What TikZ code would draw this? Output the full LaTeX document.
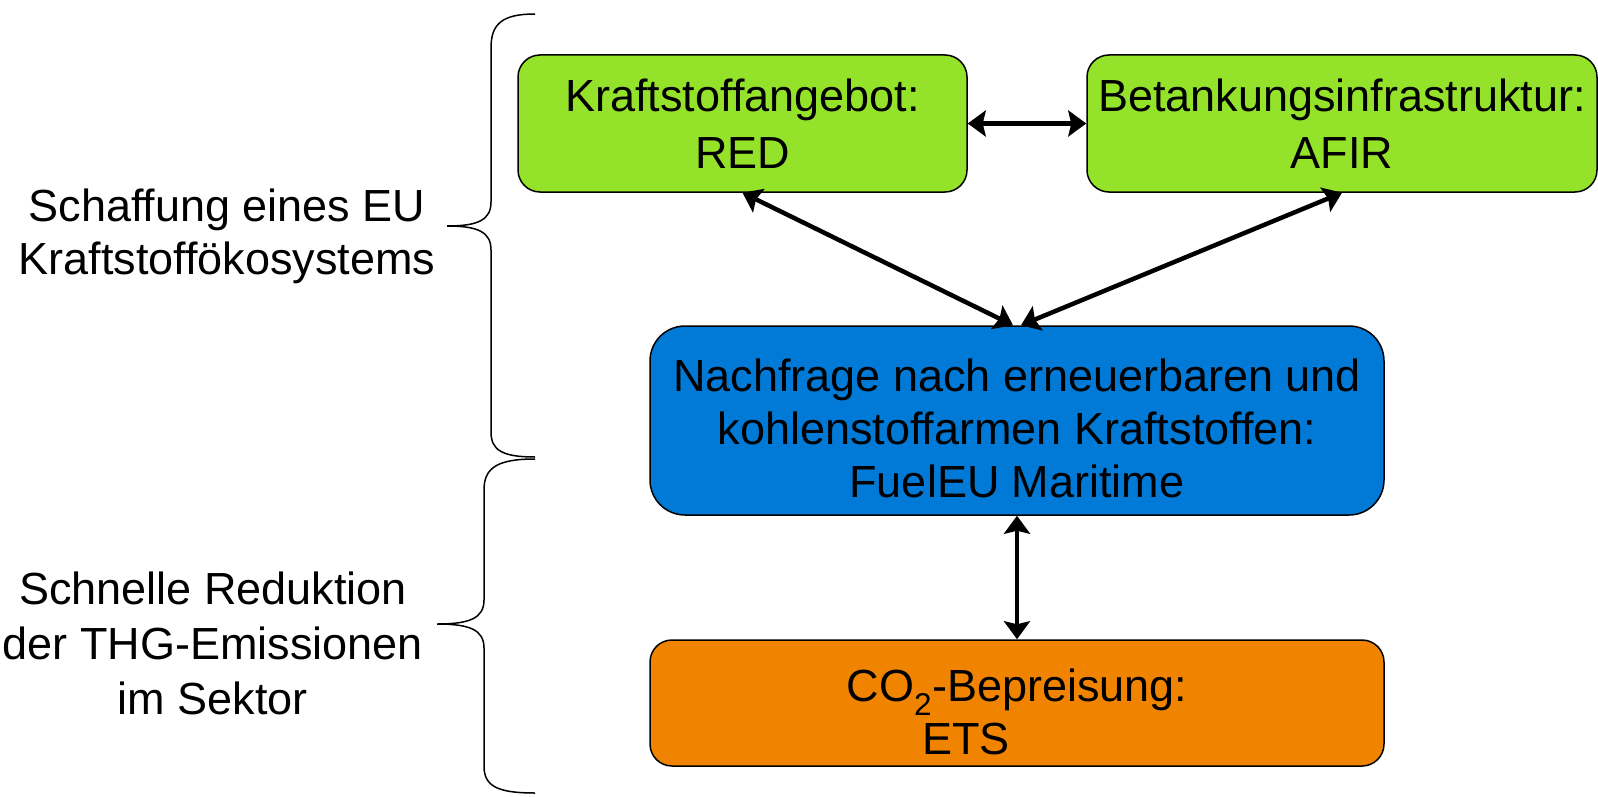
\documentclass[tikz,border=0pt]{standalone}
\usepackage{fontspec}
\setmainfont{Liberation Sans}
\usetikzlibrary{arrows.meta}
\definecolor{boxgreen}{RGB}{148,226,42}
\definecolor{boxblue}{RGB}{0,122,214}
\definecolor{boxorange}{RGB}{240,132,0}
\tikzset{
  box/.style={draw=black, line width=1.5pt, inner sep=0pt, align=center, text=black},
  txt/.style={font=\fontsize{45}{53}\selectfont},
  conn/.style={line width=4.5pt, {Stealth[length=18pt,width=26pt,inset=3pt]}-{Stealth[length=18pt,width=26pt,inset=3pt]}},
  bracepath/.style={line width=1.5pt, black}
}
\begin{document}
\begin{tikzpicture}[x=1pt,y=-1pt]
\useasboundingbox (0,0) rectangle (1598,797);
% boxes
\node[box, txt, fill=boxgreen, rounded corners=22pt, minimum width=449pt, minimum height=137pt,
      font=\fontsize{45}{57}\selectfont] (g1) at (742.5,123.5) {Kraftstoffangebot:\\RED};
\node[box, txt, fill=boxgreen, rounded corners=22pt, minimum width=510pt, minimum height=137pt,
      font=\fontsize{45}{57}\selectfont] (g2) at (1342,123.5) {Betankungsinfrastruktur:\\AFIR};
\node[box, fill=boxblue, rounded corners=35pt, minimum width=734pt, minimum height=189pt] (bl) at (1017,420.5) {};
\node[txt, align=center, inner sep=0pt] (bltext) at (1017,428)
  {Nachfrage nach erneuerbaren und\\kohlenstoffarmen Kraftstoffen:\\FuelEU Maritime};
\node[box, fill=boxorange, rounded corners=22pt, minimum width=734pt, minimum height=126pt] (or) at (1017,703) {};
\node[txt, align=center, inner sep=0pt] (ortext) at (1017,712) {CO\textsubscript{2}-Bepreisung:\\ETS\hspace*{102pt}};
% connectors
\draw[conn] (g1.east) -- (g2.west);
\draw[conn] (g1.south) -- ([xshift=-4pt]bl.north);
\draw[conn] (g2.south) -- ([xshift=4pt]bl.north);
\draw[conn] (bl.south) -- (or.north);
% left labels
\node[txt, align=center, inner sep=0pt] (lab1) at (227,236) {Schaffung eines EU\\Kraftstoffökosystems};
\node[txt, align=center, inner sep=0pt, font=\fontsize{45}{55}\selectfont] (lab2) at (213,643) {Schnelle Reduktion\\der THG-Emissionen\\im Sektor};
% braces
\draw[bracepath] (535,14) .. controls (502,14) and (491,24) .. (491,48) -- (491,202)
  .. controls (491,220) and (478,226) .. (447,226)
  .. controls (478,226) and (491,232) .. (491,250) -- (491,432)
  .. controls (491,450) and (502,457) .. (535,457);
\draw[bracepath] (535,459) .. controls (497,459) and (484,468) .. (484,490) -- (484,600)
  .. controls (484,618) and (470,624) .. (437,624)
  .. controls (470,624) and (484,630) .. (484,648) -- (484,766)
  .. controls (484,786) and (497,793) .. (535,793);
\end{tikzpicture}
\end{document}
